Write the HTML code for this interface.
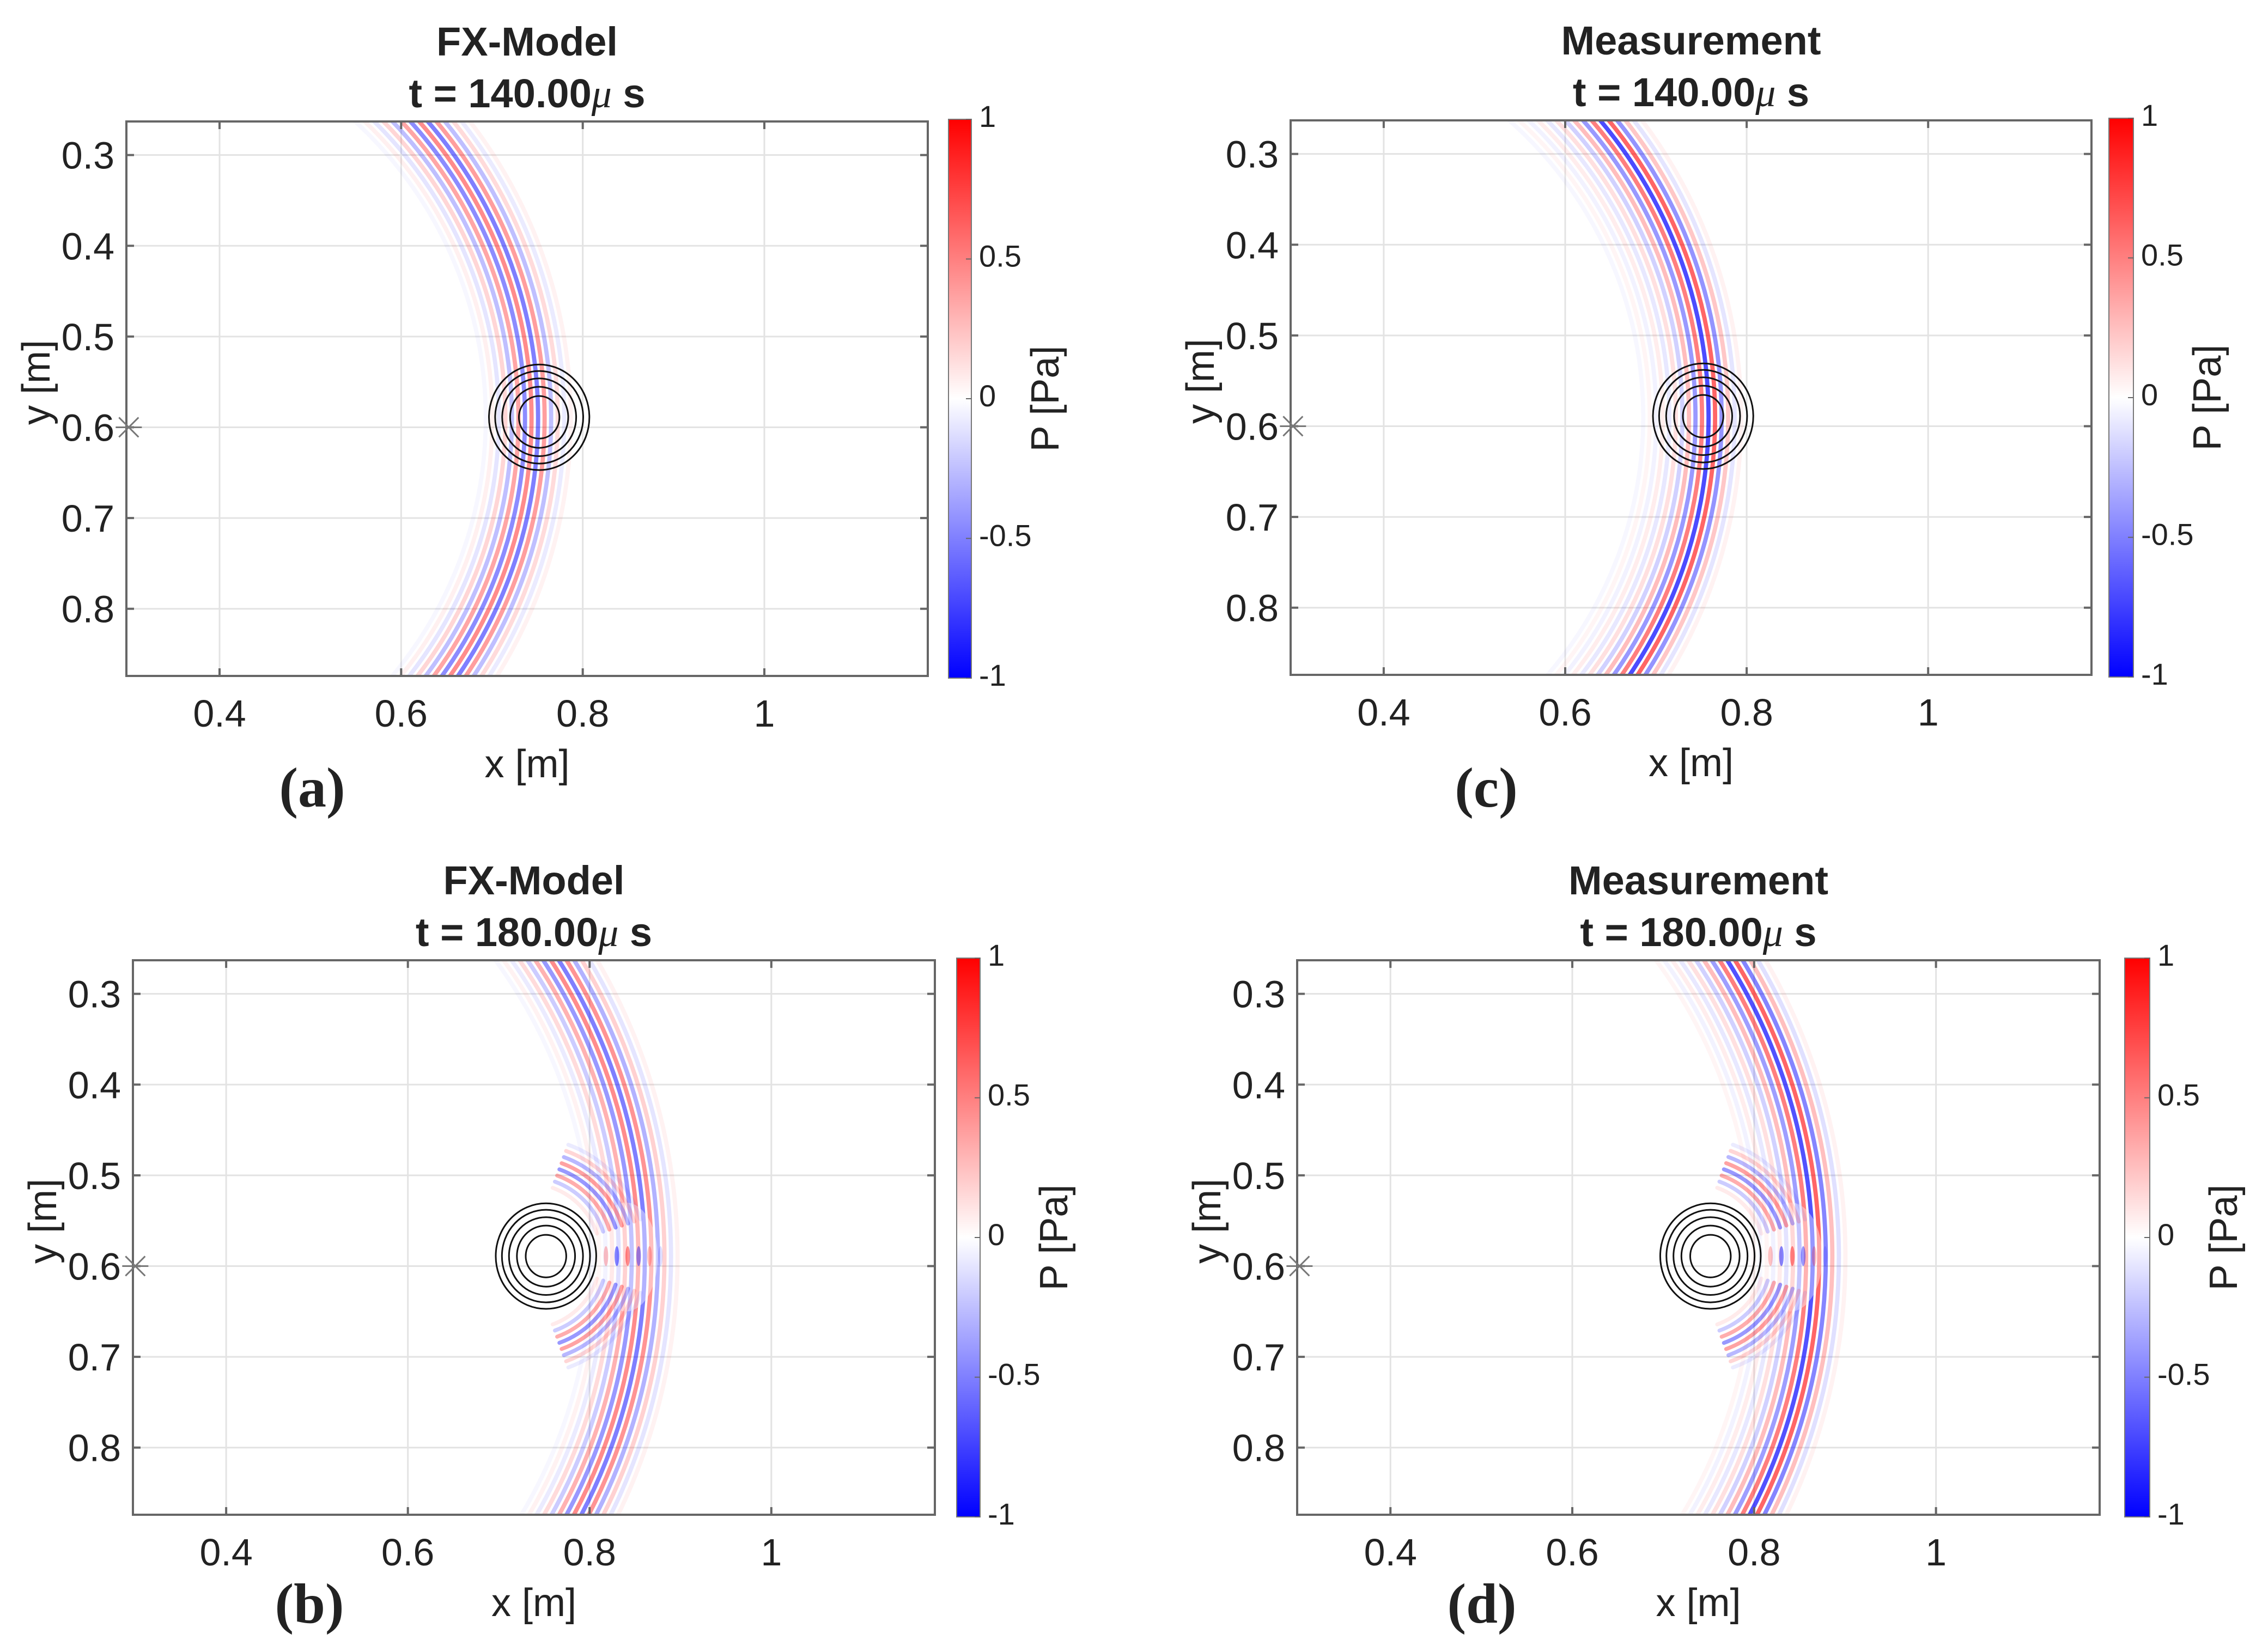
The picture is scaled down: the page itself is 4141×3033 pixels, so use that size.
<!DOCTYPE html>
<html><head><meta charset="utf-8">
<style>
html,body{margin:0;padding:0;background:#fff;overflow:hidden;}
svg{display:block;}
text{font-family:"Liberation Sans",Arial,sans-serif;fill:#222;}
</style></head>
<body>
<svg id="fig" xmlns="http://www.w3.org/2000/svg" width="4141" height="3033" viewBox="0 0 4141 3033">
<defs>
<linearGradient id="cmap" x1="0" y1="1" x2="0" y2="0">
<stop offset="0" stop-color="#0000ff"/>
<stop offset="0.5" stop-color="#ffffff"/>
<stop offset="1" stop-color="#ff0000"/>
</linearGradient>
</defs>
</svg>
<script>
// ---- data ----
const xTicks = [0.4, 0.6, 0.8, 1];
const xTickLabels = ["0.4", "0.6", "0.8", "1"];
const yTicks = [0.3, 0.4, 0.5, 0.6, 0.7, 0.8];
const yTickLabels = ["0.3", "0.4", "0.5", "0.6", "0.7", "0.8"];
const cbTicks = [1, 0.5, 0, -0.5, -1];
const cbTickLabels = ["1", "0.5", "0", "-0.5", "-1"];
const xDomain = [0.2974, 1.18];
const yDomain = [0.263, 0.874];
const waveCenter = [0.25, 0.59];
const sourcePoint = [0.3, 0.6];
const scattererCenter = [0.752, 0.589];
const contourRadii = [0.023, 0.033, 0.042, 0.050, 0.057];
const frontRadius140 = 0.49;
const frontRadius180 = 0.60;
const ringAmpFx140 = [0.05, -0.08, 0.14, -0.25, 0.38, -0.5, 0.45, -0.45, 0.35, -0.25, 0.16, -0.1, 0.06, -0.03];
const ringAmpMeas140 = [0.05, -0.1, 0.22, -0.42, 0.6, -0.7, 0.5, -0.4, 0.26, -0.18, 0.12, -0.09, 0.07, -0.05, 0.04, -0.03];
const ringAmpFx180 = [0.05, -0.1, 0.18, -0.3, 0.42, -0.5, 0.45, -0.4, 0.3, -0.2, 0.14, -0.08, 0.05, -0.03];
const ringAmpMeas180 = [0.05, -0.12, 0.25, -0.48, 0.6, -0.68, 0.5, -0.38, 0.26, -0.18, 0.12, -0.09, 0.07, -0.05, 0.04];
const scatterAmp = [0.1, -0.25, 0.4, -0.5, 0.45, -0.35, 0.2, -0.1];
const fringeX = [0.818, 0.83, 0.842, 0.854, 0.866, 0.878];
const fringeAmp = [0.3, -0.6, 0.55, -0.5, 0.3, -0.15];

const panels = [
  {id:"a", title:"FX-Model", t:"140.00", x0:232, x1:1703, y0:223, y1:1241, cb:[1741,1783], lab:573, labDy:240, R:frontRadius140, amp:ringAmpFx140, scatter:false},
  {id:"c", title:"Measurement", t:"140.00", x0:2369, x1:3839, y0:221, y1:1239, cb:[3871,3916], lab:2728, labDy:242, R:frontRadius140, amp:ringAmpMeas140, scatter:false},
  {id:"b", title:"FX-Model", t:"180.00", x0:244, x1:1716, y0:1763, y1:2781, cb:[1756,1799], lab:568, labDy:198, R:frontRadius180, amp:ringAmpFx180, scatter:true},
  {id:"d", title:"Measurement", t:"180.00", x0:2381, x1:3854, y0:1763, y1:2781, cb:[3900,3946], lab:2720, labDy:198, R:frontRadius180, amp:ringAmpMeas180, scatter:true}
];

const NS = "http://www.w3.org/2000/svg";
const svg = document.getElementById("fig");
function mk(tag, attrs, parent){
  const e = document.createElementNS(NS, tag);
  for (const k in attrs) e.setAttribute(k, attrs[k]);
  (parent||svg).appendChild(e);
  return e;
}
function col(a){ return a >= 0 ? "#ff0000" : "#0000ff"; }

panels.forEach(p => {
  const g = mk("g", {});
  
  
  const kx = (p.x1 - p.x0) / (xDomain[1] - xDomain[0]);
  const ky = (p.y1 - p.y0) / (yDomain[1] - yDomain[0]);
  const sx = v => p.x0 + (v - xDomain[0]) * kx;
  const sy = v => p.y0 + (v - yDomain[0]) * ky;
  const cx = (p.x0 + p.x1) / 2;

  const t1 = mk("text", {x:cx, y:p.y0-121, "text-anchor":"middle", "font-size":74, "font-weight":"bold", fill:"#000"}, g);
  t1.textContent = p.title;
  
  
  const t2 = mk("text", {x:cx, y:p.y0-26, "text-anchor":"middle", "font-size":74, "font-weight":"bold", fill:"#000"}, g);
  t2.innerHTML = 't = ' + p.t + '<tspan font-family="Liberation Serif, serif" font-style="italic" font-weight="normal">μ</tspan> s';
  
  

  const cp = mk("clipPath", {id:"clip-"+p.id});
  mk("rect", {x:p.x0, y:p.y0, width:p.x1-p.x0, height:p.y1-p.y0}, cp);

  const grid = mk("g", {stroke:"#e3e3e3", "stroke-width":3}, g);
  
  
  xTicks.forEach(v => mk("line", {x1:sx(v), x2:sx(v), y1:p.y0, y2:p.y1}, grid));
  yTicks.forEach(v => mk("line", {x1:p.x0, x2:p.x1, y1:sy(v), y2:sy(v)}, grid));

  const field = mk("g", {"clip-path":"url(#clip-"+p.id+")", fill:"none"}, g);
  
  
  const half = 0.0072;
  const n = p.amp.length;
  p.amp.forEach((a, i) => {
    const r = p.R + ((n-1)/2 - i) * half;
    const c = mk("circle", {cx:sx(waveCenter[0]), cy:sy(waveCenter[1]), r:r*kx, stroke:col(a), "stroke-opacity":Math.min(1,Math.abs(a)), "stroke-width":half*kx*0.65}, field);
    
    
  });

  if (p.scatter) {
    const sh = mk("ellipse", {cx:sx(0.84), cy:sy(0.59), rx:0.035*kx, ry:0.06*ky, fill:"#fff", "fill-opacity":0.4}, field);
    
    
    const scx = sx(scattererCenter[0]-0.02), scy = sy(scattererCenter[1]);
    [[-70,-18],[18,70]].forEach(([a0,a1]) => {
      scatterAmp.forEach((a, i) => {
        const r = (0.08 + i*half) * kx;
        const p0 = [scx + r*Math.cos(a0*Math.PI/180), scy + r*Math.sin(a0*Math.PI/180)];
        const p1 = [scx + r*Math.cos(a1*Math.PI/180), scy + r*Math.sin(a1*Math.PI/180)];
        const arc = mk("path", {d:`M${p0[0]},${p0[1]} A${r},${r} 0 0 1 ${p1[0]},${p1[1]}`, stroke:col(a), "stroke-opacity":Math.abs(a)*0.8, "stroke-width":half*kx*0.6, "stroke-linecap":"round"}, field);
        
        
      });
    });
    fringeX.forEach((fx, i) => {
      const a = fringeAmp[i];
      const e = mk("ellipse", {cx:sx(fx), cy:sy(scattererCenter[1]), rx:half*kx*0.35, ry:0.011*ky, fill:col(a), "fill-opacity":Math.abs(a)*0.8}, field);
      
      
    });
  }

  const cg = mk("g", {fill:"none", stroke:"#111", "stroke-width":3}, g);
  
  
  contourRadii.forEach(r => {
    const c = mk("ellipse", {cx:sx(scattererCenter[0]), cy:sy(scattererCenter[1]), rx:r*kx*0.97, ry:r*ky*1.02}, cg);
    
    
  });

  const ax = mk("g", {stroke:"#666", "stroke-width":4, fill:"none"}, g);
  
  
  mk("rect", {x:p.x0, y:p.y0, width:p.x1-p.x0, height:p.y1-p.y0}, ax);
  xTicks.forEach(v => { mk("line", {x1:sx(v), x2:sx(v), y1:p.y1, y2:p.y1-14}, ax); mk("line", {x1:sx(v), x2:sx(v), y1:p.y0, y2:p.y0+14}, ax); });
  yTicks.forEach(v => { mk("line", {x1:p.x0, x2:p.x0+14, y1:sy(v), y2:sy(v)}, ax); mk("line", {x1:p.x1, x2:p.x1-14, y1:sy(v), y2:sy(v)}, ax); });

  const st = mk("g", {stroke:"#777", "stroke-width":3}, g);
  
  
  const ssx = sx(sourcePoint[0]), ssy = sy(sourcePoint[1]);
  mk("line", {x1:ssx-24, x2:ssx+24, y1:ssy, y2:ssy}, st);
  mk("line", {x1:ssx-18, x2:ssx+18, y1:ssy-18, y2:ssy+18}, st);
  mk("line", {x1:ssx-18, x2:ssx+18, y1:ssy+18, y2:ssy-18}, st);

  xTicks.forEach((v, i) => {
    const t = mk("text", {x:sx(v), y:p.y1+93, "text-anchor":"middle", "font-size":70}, g);
    t.textContent = xTickLabels[i];
    
    
  });
  yTicks.forEach((v, i) => {
    const t = mk("text", {x:p.x0-22, y:sy(v)+25, "text-anchor":"end", "font-size":70}, g);
    t.textContent = yTickLabels[i];
    
    
  });
  const xl = mk("text", {x:cx, y:p.y1+186, "text-anchor":"middle", "font-size":72}, g);
  xl.textContent = "x [m]";
  
  
  const ymid = (p.y0+p.y1)/2 - 30;
  const yl = mk("text", {x:p.x0-141, y:ymid, "text-anchor":"middle", "font-size":72, transform:`rotate(-90 ${p.x0-141} ${ymid})`}, g);
  yl.textContent = "y [m]";
  
  

  const pl = mk("text", {x:p.lab, y:p.y1+p.labDy, "text-anchor":"middle", "font-size":104, "font-weight":"bold", style:"font-family:'Liberation Serif',serif", fill:"#000"}, g);
  pl.textContent = "(" + p.id + ")";
  
  

  const cbg = mk("g", {}, g);
  
  
  mk("rect", {x:p.cb[0], y:p.y0-4, width:p.cb[1]-p.cb[0], height:p.y1-p.y0+8, fill:"url(#cmap)", stroke:"#777", "stroke-width":2}, cbg);
  const cy = v => p.y0 - 4 + (1 - v) / 2 * (p.y1 - p.y0 + 8);
  cbTicks.forEach((v, i) => {
    mk("line", {x1:p.cb[1]-10, x2:p.cb[1], y1:cy(v), y2:cy(v), stroke:"#666", "stroke-width":2}, cbg);
    const t = mk("text", {x:p.cb[1]+14, y:cy(v)+14, "font-size":56}, cbg);
    t.textContent = cbTickLabels[i];
    
    
  });
  const plx = p.cb[1] + 160;
  const cbl = mk("text", {x:plx, y:cy(0), "text-anchor":"middle", "font-size":72, transform:`rotate(-90 ${plx} ${cy(0)})`}, cbg);
  cbl.textContent = "P [Pa]";
  
  
});
</script>
</body></html>
